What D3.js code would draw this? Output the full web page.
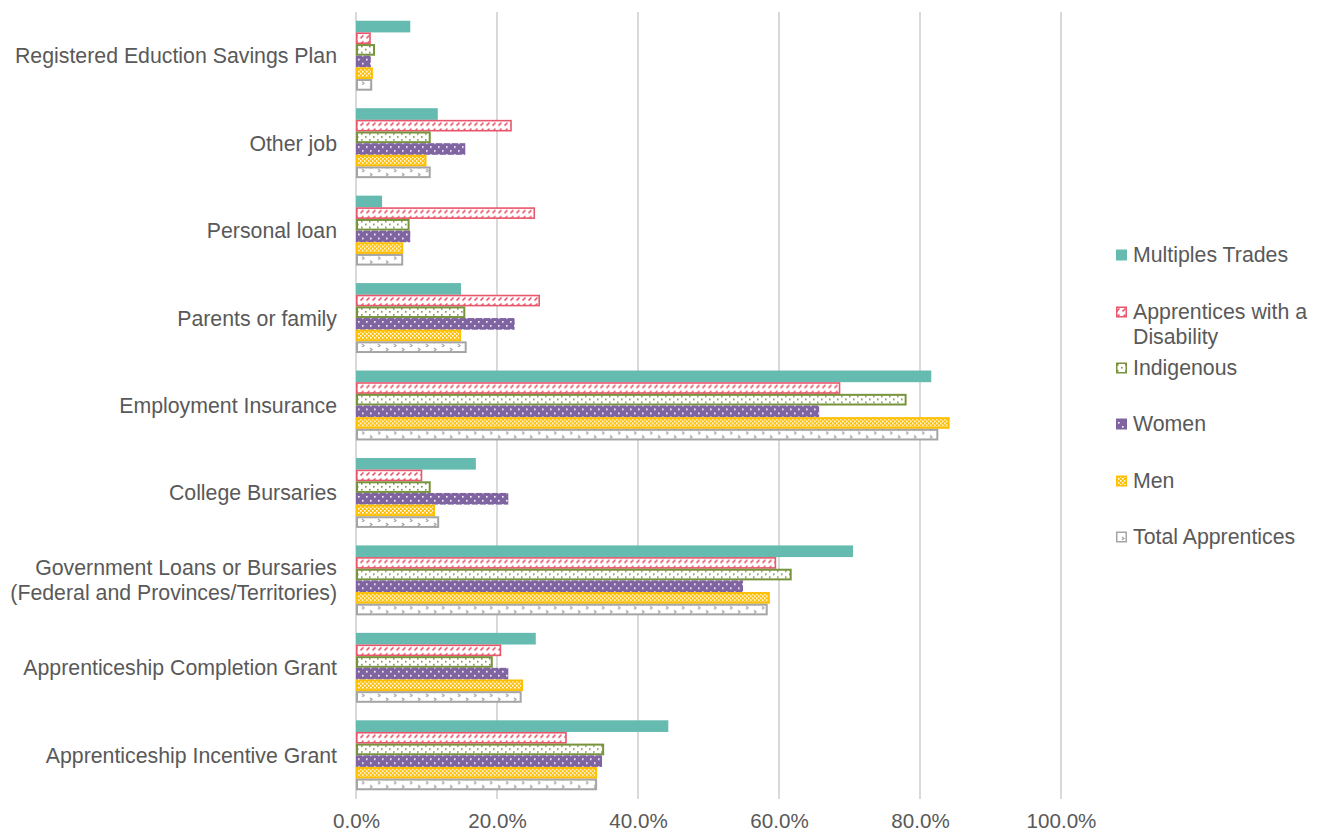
<!DOCTYPE html>
<html><head><meta charset="utf-8">
<script src="https://cdn.jsdelivr.net/npm/d3@7"></script>
<style>body{margin:0;background:#fff}</style>
</head><body><svg id="c" width="1323" height="834"></svg>
<script>
const categories = [
  "Registered Eduction Savings Plan",
  "Other job",
  "Personal loan",
  "Parents or family",
  "Employment Insurance",
  "College Bursaries",
  "Government Loans or Bursaries\n(Federal and Provinces/Territories)",
  "Apprenticeship Completion Grant",
  "Apprenticeship Incentive Grant"
];
const seriesNames = ["Multiples Trades","Apprentices with a Disability","Indigenous","Women","Men","Total Apprentices"];
const multiplesTrades = [7.7, 11.6, 3.7, 14.9, 81.6, 17.0, 70.5, 25.5, 44.3];
const disability      = [2.1, 22.1, 25.4, 26.1, 68.7, 9.4, 59.6, 20.6, 29.9];
const indigenous      = [2.7, 10.6, 7.6, 15.5, 78.1, 10.6, 61.8, 19.4, 35.2];
const women           = [2.1, 15.5, 7.7, 22.5, 65.7, 21.6, 54.9, 21.6, 34.9];
const men             = [2.4, 10.0, 6.7, 14.9, 84.2, 11.2, 58.7, 23.7, 34.2];
const total           = [2.3, 10.6, 6.7, 15.7, 82.6, 11.8, 58.4, 23.5, 34.2];
const seriesValues = [multiplesTrades, disability, indigenous, women, men, total];
const xTicks = [0, 20, 40, 60, 80, 100];

const svg = d3.select("#c");
const FONT = "'Liberation Sans', Arial, sans-serif";
const TXT = "#595959";
const FS = 21.3;
const FS_TICK = 20.6;

// patterns
const defs = svg.append("defs");
function pat(id, w, h, build) {
  const p = defs.append("pattern").attr("id", id).attr("patternUnits", "userSpaceOnUse")
    .attr("width", w).attr("height", h);
  build(p);
}
pat("pDis", 6, 6, p => {
  p.append("rect").attr("width", 6).attr("height", 6).attr("fill", "#fff");
  p.append("path").attr("d", "M0.5,5.5 L3.5,2.5").attr("stroke", "#E8576B").attr("stroke-width", 1.6).attr("fill", "none");
});
pat("pInd", 8, 6, p => {
  p.append("rect").attr("width", 8).attr("height", 6).attr("fill", "#fff");
  p.append("rect").attr("x", 1).attr("y", 1).attr("width", 1.6).attr("height", 1.6).attr("fill", "#77933C");
  p.append("rect").attr("x", 5).attr("y", 4).attr("width", 1.6).attr("height", 1.6).attr("fill", "#77933C");
});
pat("pWom", 8, 8, p => {
  p.append("rect").attr("width", 8).attr("height", 8).attr("fill", "#8064A2");
  p.append("rect").attr("x", 2).attr("y", 2).attr("width", 1.6).attr("height", 1.6).attr("fill", "#fff");
  p.append("rect").attr("x", 6).attr("y", 6).attr("width", 1.6).attr("height", 1.6).attr("fill", "#fff");
});
pat("pMen", 4, 4, p => {
  p.append("rect").attr("width", 4).attr("height", 4).attr("fill", "#FFC000");
  p.append("rect").attr("x", 0).attr("y", 0).attr("width", 1.6).attr("height", 1.6).attr("fill", "#fff");
  p.append("rect").attr("x", 2).attr("y", 2).attr("width", 1.6).attr("height", 1.6).attr("fill", "#fff");
});
pat("pTot", 16, 8, p => {
  p.append("rect").attr("width", 16).attr("height", 8).attr("fill", "#fff");
  p.append("path").attr("d", "M2,1 L4,2.5 L2,4").attr("stroke", "#A5A5A5").attr("stroke-width", 1.3).attr("fill", "none");
  p.append("path").attr("d", "M10,5 L12,6.5 L10,8").attr("stroke", "#A5A5A5").attr("stroke-width", 1.3).attr("fill", "none");
});

const styles = [
  {fill: "#66BBB0", stroke: null, sw: 0},
  {fill: "url(#pDis)", stroke: "#E8576B", sw: 1.6},
  {fill: "url(#pInd)", stroke: "#77933C", sw: 2},
  {fill: "url(#pWom)", stroke: null, sw: 0},
  {fill: "url(#pMen)", stroke: "#FFC000", sw: 2},
  {fill: "url(#pTot)", stroke: "#A5A5A5", sw: 2}
];
const legendStyles = [
  {fill: "#66BBB0", stroke: null},
  {fill: "url(#pDis)", stroke: "#E8576B"},
  {fill: "url(#pInd)", stroke: "#77933C"},
  {fill: "url(#pWom)", stroke: "#8064A2"},
  {fill: "url(#pMen)", stroke: "#FFC000"},
  {fill: "url(#pTot)", stroke: "#A5A5A5"}
];

const x = d3.scaleLinear().domain([0, 100]).range([356, 1061]);
const y = d3.scaleBand().domain(categories).range([12, 799]).paddingInner(0.2).paddingOuter(0.1);
const y1 = d3.scaleBand().domain(seriesNames).range([0, y.bandwidth()]);

// gridlines
svg.append("g").selectAll("line").data(xTicks).join("line")
  .attr("x1", d => x(d)).attr("x2", d => x(d))
  .attr("y1", 12).attr("y2", 799)
  .attr("stroke", "#D9D9D9").attr("stroke-width", 2);

// bars
const groups = svg.append("g").selectAll("g").data(categories).join("g")
  .attr("transform", c => `translate(0,${y(c)})`);
groups.each(function(c, ci) {
  const g = d3.select(this);
  seriesNames.forEach((s, si) => {
    const v = seriesValues[si][ci];
    const st = styles[si];
    const x0 = x(0), w = x(v) - x(0), yy = y1(s), h = y1.bandwidth();
    const half = st.sw / 2;
    g.append("rect")
      .attr("x", x0 + half).attr("y", yy + half)
      .attr("width", Math.max(0, w - st.sw)).attr("height", h - st.sw)
      .attr("fill", st.fill)
      .attr("stroke", st.stroke || "none")
      .attr("stroke-width", st.sw);
  });
});

// x axis labels
const xAxis = d3.axisBottom(x).tickValues(xTicks).tickSize(0).tickPadding(14)
  .tickFormat(d => d.toFixed(1) + "%");
const ax = svg.append("g").attr("transform", "translate(0,799)").call(xAxis);
ax.select(".domain").remove();
ax.selectAll("text").attr("font-family", FONT).attr("font-size", FS_TICK).attr("fill", TXT);

// category labels
const yl = svg.append("g");
categories.forEach(c => {
  const lines = c.split("\n");
  const cy = y(c) + y.bandwidth() / 2;
  const lh = 25;
  const t = yl.append("text").attr("text-anchor", "end")
    .attr("font-family", FONT).attr("font-size", FS).attr("fill", TXT);
  lines.forEach((ln, i) => {
    t.append("tspan").attr("x", 337)
      .attr("y", cy + (i - (lines.length - 1) / 2) * lh)
      .attr("dy", "0.35em").text(ln);
  });
});

// legend
const legendY = [255, 312, 368, 424, 481, 537];
const legendLabels = [["Multiples Trades"], ["Apprentices with a", "Disability"], ["Indigenous"], ["Women"], ["Men"], ["Total Apprentices"]];
const lg = svg.append("g");
seriesNames.forEach((s, i) => {
  const ls = legendStyles[i];
  const sq = 11;
  lg.append("rect").attr("x", 1116 + (ls.stroke ? 0.75 : 0)).attr("y", legendY[i] - sq / 2 + (ls.stroke ? 0.75 : 0))
    .attr("width", ls.stroke ? sq - 1.5 : sq).attr("height", ls.stroke ? sq - 1.5 : sq)
    .attr("fill", ls.fill).attr("stroke", ls.stroke || "none").attr("stroke-width", 1.5);
  const t = lg.append("text").attr("font-family", FONT).attr("font-size", FS).attr("fill", TXT);
  legendLabels[i].forEach((ln, j) => {
    t.append("tspan").attr("x", 1133).attr("y", legendY[i] + j * 25).attr("dy", "0.35em").text(ln);
  });
});
</script>
</body></html>
